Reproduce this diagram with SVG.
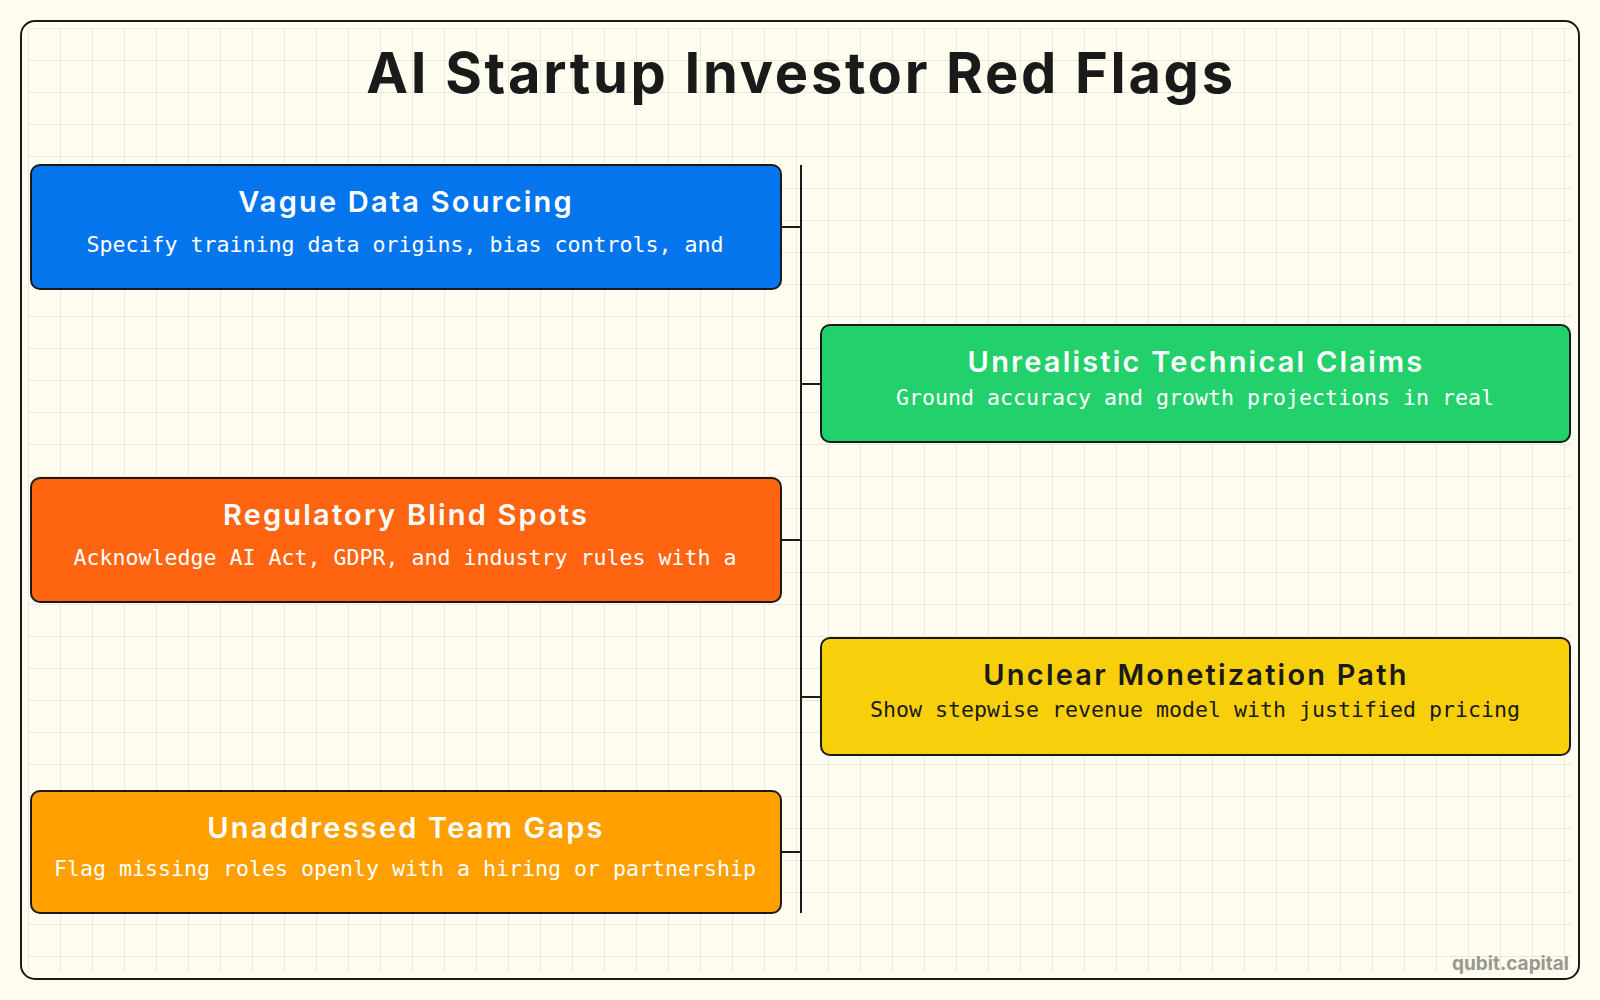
<svg xmlns="http://www.w3.org/2000/svg" width="1600" height="1000" viewBox="0 0 1600 1000">
  <defs>
    <pattern id="grid" x="28" y="28" width="32" height="32" patternUnits="userSpaceOnUse">
      <path d="M0.5 0 V32 M0 0.5 H32" fill="none" stroke="#ece9da" stroke-width="1"/>
    </pattern>
    <style>
      .frame { fill: #fffdf0; stroke: #1a1a1a; stroke-width: 2; }
      .box { stroke: #1a1a1a; stroke-width: 2; }
      .title { font-family: Inter, "Noto Sans", "Liberation Sans", sans-serif; font-weight: 700; text-anchor: middle; letter-spacing: 2.7px; }
      .ntitle { font-family: Inter, "Noto Sans", "Liberation Sans", sans-serif; font-weight: 600; font-size: 29px; letter-spacing: 2.2px; text-anchor: middle; }
      .nsub { font-family: "DejaVu Sans Mono", "Liberation Mono", monospace; font-size: 21.6px; text-anchor: middle; }
      .light { fill: #ffffff; }
      .dark { fill: #1a1a1a; }
      .conn { stroke: #1a1a1a; stroke-width: 2; fill: none; }
    </style>
  </defs>
  <rect x="0" y="0" width="1600" height="1000" fill="#fffdf0"/>
  <rect class="frame" x="21" y="21" width="1558" height="958" rx="14"/>
  <rect x="28" y="28" width="1544" height="944" fill="url(#grid)"/>

  <text class="title" x="801" y="93" font-size="56" fill="#1a1a1a">AI Startup Investor Red Flags</text>

  <g id="connectors">
    <line class="conn" x1="801" y1="165" x2="801" y2="913"/>
    <line class="conn" x1="781" y1="227" x2="801" y2="227"/>
    <line class="conn" x1="801" y1="384" x2="821" y2="384"/>
    <line class="conn" x1="781" y1="540" x2="801" y2="540"/>
    <line class="conn" x1="801" y1="697" x2="821" y2="697"/>
    <line class="conn" x1="781" y1="852" x2="801" y2="852"/>
  </g>

  <g id="node-vague-data">
    <rect class="box" x="31" y="165" width="750" height="124" rx="9" fill="#0575ee"/>
    <text class="ntitle light" x="406" y="212">Vague Data Sourcing</text>
    <text class="nsub light" x="405" y="252">Specify training data origins, bias controls, and</text>
  </g>

  <g id="node-unrealistic-claims">
    <rect class="box" x="821" y="325" width="749" height="117" rx="9" fill="#22d16b"/>
    <text class="ntitle light" x="1196" y="372">Unrealistic Technical Claims</text>
    <text class="nsub light" x="1195" y="405">Ground accuracy and growth projections in real</text>
  </g>

  <g id="node-regulatory">
    <rect class="box" x="31" y="478" width="750" height="124" rx="9" fill="#ff6411"/>
    <text class="ntitle light" x="406" y="525">Regulatory Blind Spots</text>
    <text class="nsub light" x="405" y="565">Acknowledge AI Act, GDPR, and industry rules with a</text>
  </g>

  <g id="node-monetization">
    <rect class="box" x="821" y="638" width="749" height="117" rx="9" fill="#f8cf0b"/>
    <text class="ntitle dark" x="1196" y="685">Unclear Monetization Path</text>
    <text class="nsub dark" x="1195" y="717">Show stepwise revenue model with justified pricing</text>
  </g>

  <g id="node-team-gaps">
    <rect class="box" x="31" y="791" width="750" height="122" rx="9" fill="#ffa000"/>
    <text class="ntitle light" x="406" y="838">Unaddressed Team Gaps</text>
    <text class="nsub light" x="405" y="876">Flag missing roles openly with a hiring or partnership</text>
  </g>

  <text x="1569" y="970" font-family="Inter, 'Noto Sans', sans-serif" font-weight="700" font-size="19" fill="#9a988f" text-anchor="end">qubit.capital</text>
</svg>
